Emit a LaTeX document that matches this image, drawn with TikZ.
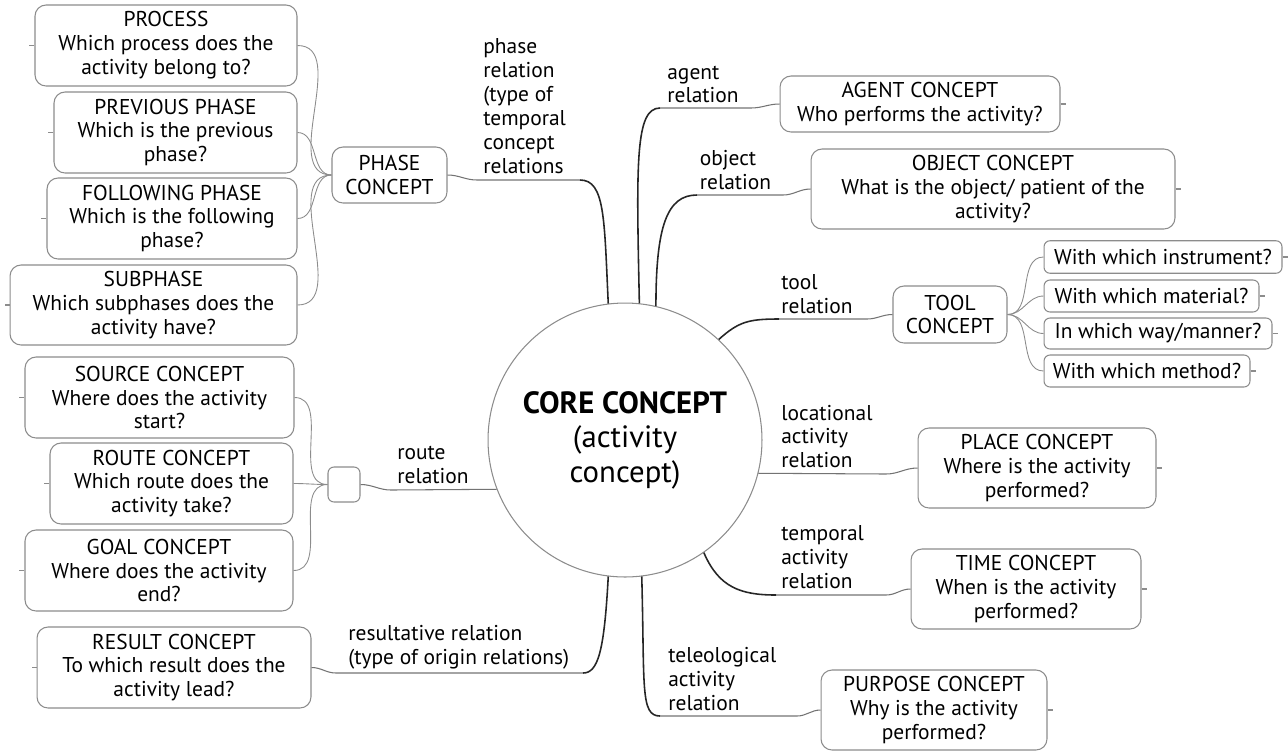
\documentclass[tikz,border=0pt]{standalone}
\usepackage{fontspec}
\setmainfont{PT Sans}
\usetikzlibrary{shapes.geometric}
\tikzstyle{leaf} = [rectangle, rounded corners=2.2mm, draw=black!45, line width=0.6pt, align=center, inner sep=0pt, font=\fontsize{12.2}{13.6}\selectfont]
\tikzstyle{core} = [circle, draw=black!45, line width=0.6pt, minimum size=5.48cm, inner sep=0pt, align=center, font=\fontsize{17.5}{19.6}\selectfont]
\tikzstyle{rellabel} = [anchor=west, inner sep=0pt, align=left, font=\fontsize{12.2}{13.6}\selectfont]
\tikzstyle{rel} = [draw=black!85, line width=0.9pt]
\tikzstyle{under} = [draw=black!55, line width=0.6pt]
\tikzstyle{branch} = [draw=black!45, line width=0.5pt]
\tikzstyle{stub} = [draw=black!45, line width=0.6pt]

\begin{document}
\begin{tikzpicture}[x=0.02cm, y=-0.02cm]
\useasboundingbox (0,0) rectangle (1288,752);

% core
\node (core) [core] at (625,440) {\textbf{CORE CONCEPT}\\(activity\\concept)};

% phase side
\node (phase) [leaf, minimum width=2.3cm, minimum height=1.12cm] at (389.5,175) {PHASE\\CONCEPT};
\node (process) [leaf, minimum width=5.24cm, minimum height=1.62cm] at (166,45.5) {PROCESS\\Which process does the\\activity belong to?};
\node (previous) [leaf, minimum width=4.86cm, minimum height=1.62cm] at (175.5,132.5) {PREVIOUS PHASE\\Which is the previous\\phase?};
\node (following) [leaf, minimum width=5.0cm, minimum height=1.62cm] at (172,218.5) {FOLLOWING PHASE\\Which is the following\\phase?};
\node (subphase) [leaf, minimum width=5.74cm, minimum height=1.6cm] at (153.5,305) {SUBPHASE\\Which subphases does the\\activity have?};

% route side
\node (routehub) [leaf, rounded corners=1.2mm, minimum width=0.64cm, minimum height=0.7cm] at (344,484.5) {};
\node (source) [leaf, minimum width=5.38cm, minimum height=1.62cm] at (159.5,397.5) {SOURCE CONCEPT\\Where does the activity\\start?};
\node (route) [leaf, minimum width=4.86cm, minimum height=1.62cm] at (171.5,483.5) {ROUTE CONCEPT\\Which route does the\\activity take?};
\node (goal) [leaf, minimum width=5.36cm, minimum height=1.62cm] at (159,570.5) {GOAL CONCEPT\\Where does the activity\\end?};
\node (result) [leaf, minimum width=5.48cm, minimum height=1.62cm] at (174,667.5) {RESULT CONCEPT\\To which result does the\\activity lead?};

% right side
\node (agent) [leaf, minimum width=5.6cm, minimum height=1.12cm] at (920,104) {AGENT CONCEPT\\Who performs the activity?};
\node (object) [leaf, minimum width=7.28cm, minimum height=1.6cm] at (993,189) {OBJECT CONCEPT\\What is the object/ patient of the\\activity?};
\node (tool) [leaf, minimum width=2.28cm, minimum height=1.14cm] at (950,314.5) {TOOL\\CONCEPT};
\node (instrument) [leaf, rounded corners=1.2mm, minimum width=4.76cm, minimum height=0.65cm] at (1163,257) {With which instrument?};
\node (material) [leaf, rounded corners=1.2mm, minimum width=4.3cm, minimum height=0.64cm] at (1151.5,296) {With which material?};
\node (manner) [leaf, rounded corners=1.2mm, minimum width=4.56cm, minimum height=0.62cm] at (1158,333.5) {In which way/manner?};
\node (method) [leaf, rounded corners=1.2mm, minimum width=4.12cm, minimum height=0.64cm] at (1147,371) {With which method?};
\node (place) [leaf, minimum width=4.76cm, minimum height=1.6cm] at (1037,468) {PLACE CONCEPT\\Where is the activity\\performed?};
\node (time) [leaf, minimum width=4.6cm, minimum height=1.6cm] at (1026,589) {TIME CONCEPT\\When is the activity\\performed?};
\node (purpose) [leaf, minimum width=4.52cm, minimum height=1.6cm] at (934,710) {PURPOSE CONCEPT\\Why is the activity\\performed?};

% relation labels
\node (phaserel) [rellabel] at (483,106) {phase\\relation\\(type of\\temporal\\concept\\relations};
\node (agentrel) [rellabel] at (667,84.5) {agent\\relation};
\node (objectrel) [rellabel] at (699.5,170) {object\\relation};
\node (toolrel) [rellabel] at (781,294.5) {tool\\relation};
\node (placerel) [rellabel] at (781,436.5) {locational\\activity\\relation};
\node (timerel) [rellabel] at (781,557.5) {temporal\\activity\\relation};
\node (purposerel) [rellabel] at (668,679) {teleological\\activity\\relation};
\node (resultrel) [rellabel] at (348,647.5) {resultative relation\\(type of origin relations)};
\node (routerel) [rellabel] at (397,465) {route\\relation};

% underline ends
\coordinate (phaseA) at (580,180);
\coordinate (phaseB) at (477,180);
\coordinate (agentA) at (660,108);
\coordinate (agentB) at (751,108);
\coordinate (objectA) at (697,195);
\coordinate (objectB) at (783,195);
\coordinate (toolA) at (779,319);
\coordinate (toolB) at (867,319);
\coordinate (placeB) at (886,474);
\coordinate (timeA) at (776,595);
\coordinate (timeB) at (886,595);
\coordinate (purposeA) at (660,716);
\coordinate (purposeB) at (797,716);
\coordinate (resultA) at (583,673);
\coordinate (resultB) at (336,673);
\coordinate (routeB) at (391,490);

% relations from the core
\draw [rel] (core.97.5) .. controls +(-4,-85) and +(25,0) .. (phaseA);
\draw [rel] (core.84.2) .. controls +(-3,-140) and +(-25,0) .. (agentA);
\draw [rel] (core.77.5) .. controls +(0,-80) and +(-30,0) .. (objectA);
\draw [rel] (core.47.6) .. controls +(20,-18) and +(-30,0) .. (toolA);
\draw [rel] (core.-55.3) .. controls +(15,35) and +(-35,0) .. (timeA);
\draw [rel] (core.-83.3) .. controls +(3,110) and +(-20,0) .. (purposeA);
\draw [rel] (core.-97.5) .. controls +(-4,75) and +(15,0) .. (resultA);

\draw [under] (phaseA) -- (phaseB) to[out=180,in=0] (phase.east);
\draw [under] (agentA) -- (agentB) to[out=0,in=180] (agent.west);
\draw [under] (objectA) -- (objectB) to[out=0,in=180] (object.west);
\draw [under] (toolA) -- (toolB) to[out=0,in=180] (tool.west);
\draw [under] (core.-14.3) -- (placeB) to[out=0,in=180] (place.west);
\draw [under] (timeA) -- (timeB) to[out=0,in=180] (time.west);
\draw [under] (purposeA) -- (purposeB) to[out=0,in=180] (purpose.west);
\draw [under] (resultA) -- (resultB) to[out=180,in=0] (result.east);
\draw [under] (core.201.3) -- (routeB) to[out=180,in=0] (routehub.east);

% branches
\foreach \n in {process,previous,following,subphase}
  \draw [branch] (phase.west) to[out=180,in=0] (\n.east);
\foreach \n in {source,route,goal}
  \draw [branch] (routehub.west) to[out=180,in=0] (\n.east);
\foreach \n in {instrument,material,manner,method}
  \draw [branch] (tool.east) to[out=0,in=180] (\n.west);

% stubs
\foreach \n in {process,previous,following,subphase,source,route,goal,result}
  \draw [stub] (\n.west) -- ++(-5,0);
\foreach \n in {agent,object,instrument,material,manner,method,place,time,purpose}
  \draw [stub] (\n.east) -- ++(5,0);
\end{tikzpicture}
\end{document}
